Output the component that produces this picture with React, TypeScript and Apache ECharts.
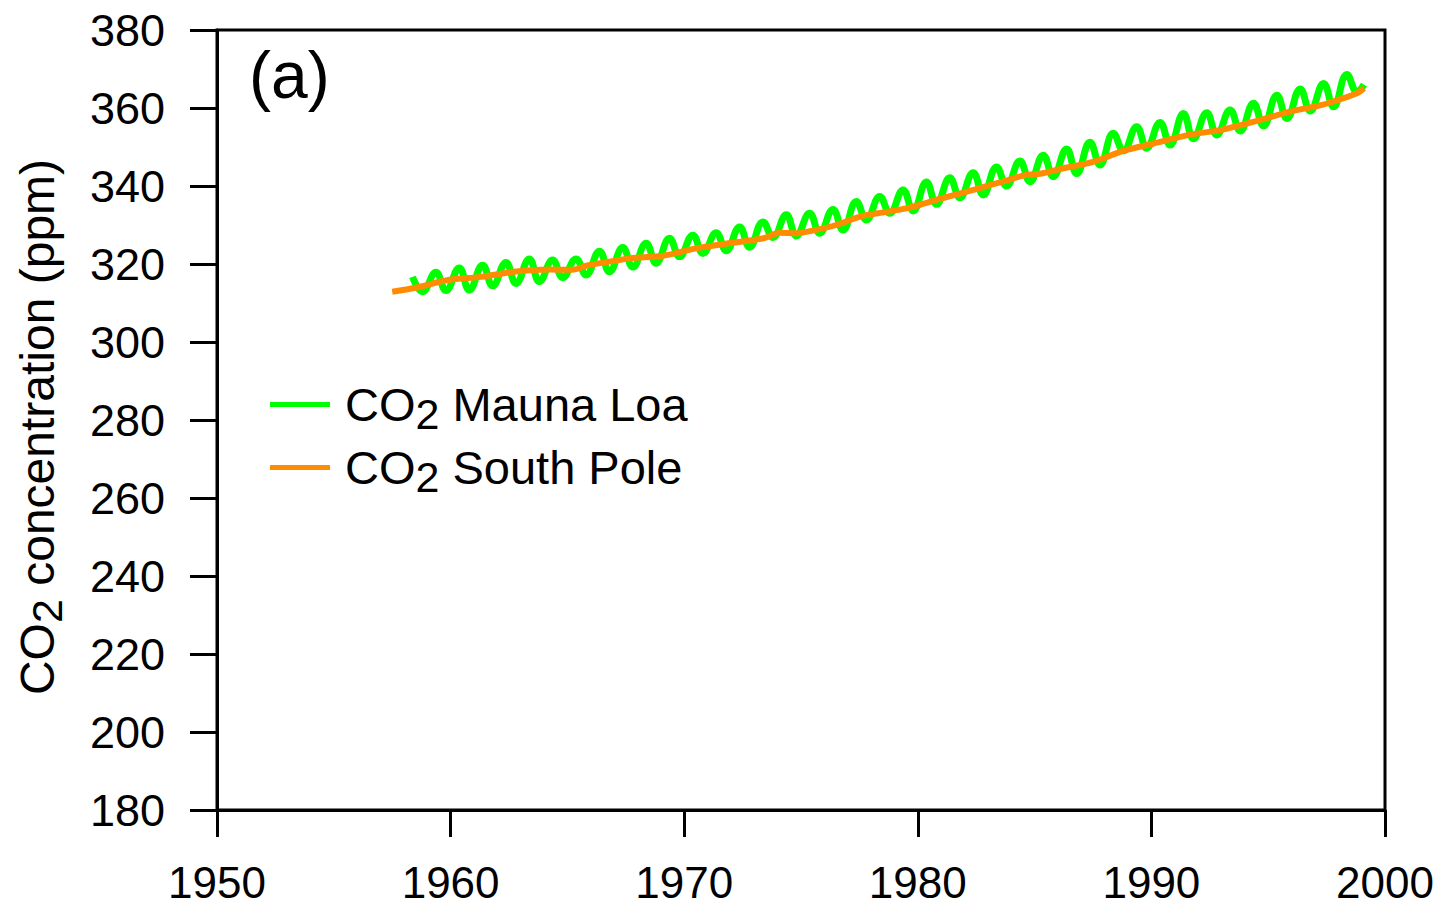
import React, { useEffect, useRef } from "react";
import * as echarts from "echarts";

// Mauna Loa: annual seasonal maximum (≈May) and minimum (≈Oct)
const mlYears = [
  1958, 1959, 1960, 1961, 1962, 1963, 1964, 1965, 1966, 1967,
  1968, 1969, 1970, 1971, 1972, 1973, 1974, 1975, 1976, 1977,
  1978, 1979, 1980, 1981, 1982, 1983, 1984, 1985, 1986, 1987,
  1988, 1989, 1990, 1991, 1992, 1993, 1994, 1995, 1996, 1997, 1998,
];
const mlPeaks = [
  316.7, 317.9, 319.0, 319.7, 320.4, 321.3, 321.0, 321.3, 323.3, 324.2,
  325.3, 326.6, 327.4, 328.0, 329.5, 330.8, 332.6, 333.0, 334.0, 336.0,
  337.3, 339.0, 341.0, 342.1, 343.4, 344.9, 346.4, 347.9, 349.5, 351.2,
  353.5, 355.2, 356.3, 358.6, 358.8, 359.5, 361.2, 363.3, 364.9, 366.3, 368.6,
];
const mlTroughs = [
  312.9, 313.2, 313.3, 314.4, 315.0, 315.5, 316.5, 317.2, 318.0, 319.2,
  320.2, 321.9, 322.7, 323.4, 324.3, 326.8, 327.2, 327.9, 328.7, 331.3,
  333.0, 333.6, 335.3, 337.0, 337.7, 340.0, 341.1, 342.4, 343.2, 345.4,
  349.0, 349.7, 350.5, 352.1, 353.1, 354.1, 355.4, 357.3, 359.2, 360.3, 364.2,
];
const mlLast = [1999.1, 366.0];

// South Pole
const spYears = [
  1957.5, 1958.5, 1959.9, 1961.3, 1962.7, 1964.2, 1965.2, 1965.9, 1967.0, 1967.7,
  1969.1, 1970.5, 1971.9, 1973.4, 1974.1, 1974.8, 1975.6, 1976.5, 1977.6, 1978.3,
  1979.6, 1981.0, 1982.5, 1983.9, 1984.6, 1985.3, 1986.2, 1987.5, 1988.8, 1990.1,
  1991.6, 1993.0, 1994.4, 1995.9, 1997.3, 1998.0, 1998.8, 1999.1,
];
const spValues = [
  312.9, 313.9, 315.9, 316.7, 318.0, 318.6, 318.5, 319.7, 320.8, 321.5,
  322.1, 324.0, 325.3, 326.6, 328.0, 327.9, 328.7, 330.0, 332.3, 333.0,
  334.4, 336.8, 339.2, 341.6, 342.8, 343.2, 344.5, 346.2, 349.0, 350.9,
  353.1, 354.4, 356.5, 359.0, 360.8, 362.1, 363.8, 365.1,
];

const seriesNames = ["CO₂ Mauna Loa", "CO₂ South Pole"];
const yTitle = "CO₂ concentration (ppm)";
const panelLabel = "(a)";

const PEAK_PHASE = 0.37;
const TROUGH_PHASE = 0.8;

const FONT = "'Liberation Sans', Arial, Helvetica, sans-serif";

function toRich(s: string) {
  return s.replace("₂", "{sub|2}");
}

export default function App() {
  const ref = useRef<HTMLDivElement>(null);

  useEffect(() => {
    if (!ref.current) return;
    const chart = echarts.init(ref.current, undefined, { renderer: "svg" });

    const mlData: number[][] = [];
    mlYears.forEach((y, i) => {
      mlData.push([y + PEAK_PHASE, mlPeaks[i]]);
      mlData.push([y + TROUGH_PHASE, mlTroughs[i]]);
    });
    mlData.push(mlLast);
    const spData = spYears.map((y, i) => [y, spValues[i]]);

    chart.setOption({
      animation: false,
      backgroundColor: "#fff",
      grid: {
        left: 217,
        right: 52,
        top: 30,
        bottom: 96,
        show: true,
        borderColor: "#000",
        borderWidth: 3,
        containLabel: false,
      },
      legend: {
        orient: "vertical",
        left: 270,
        top: 381,
        padding: 0,
        itemGap: 9,
        itemWidth: 60,
        itemHeight: 5,
        selectedMode: false,
        formatter: (name: string) => toRich(name),
        textStyle: {
          fontSize: 47,
          fontFamily: FONT,
          color: "#000",
          padding: [0, 0, 0, 10],
          rich: {
            sub: { fontSize: 43, fontFamily: FONT, color: "#000", padding: [18, 0, 0, 0] },
          },
        },
        data: seriesNames.map((n) => ({ name: n, icon: "rect" })),
      },
      xAxis: {
        type: "value",
        min: 1950,
        max: 2000,
        interval: 10,
        splitLine: { show: false },
        axisLine: { show: true, lineStyle: { color: "#000", width: 3 } },
        axisTick: { show: true, length: 27, lineStyle: { color: "#000", width: 3 } },
        axisLabel: {
          fontSize: 44,
          lineHeight: 34,
          fontFamily: FONT,
          color: "#000",
          margin: 55,
          formatter: (v: number) => String(v),
        },
      },
      yAxis: {
        type: "value",
        min: 180,
        max: 380,
        interval: 20,
        splitLine: { show: false },
        axisLine: { show: true, lineStyle: { color: "#000", width: 3 } },
        axisTick: { show: true, length: 27, lineStyle: { color: "#000", width: 3 } },
        axisLabel: {
          fontSize: 45,
          fontFamily: FONT,
          color: "#000",
          margin: 52,
        },
        name: toRich(yTitle),
        nameLocation: "middle",
        nameRotate: 90,
        nameGap: 149,
        nameTextStyle: {
          fontSize: 48,
          fontFamily: FONT,
          color: "#000",
          padding: [0, 14, 0, 0],
          rich: { sub: { fontSize: 43, fontFamily: FONT, color: "#000", padding: [18, 0, 0, 0] } },
        },
      },
      graphic: [
        {
          type: "text",
          left: 249,
          top: 42,
          style: {
            text: panelLabel,
            fontSize: 66,
            fontFamily: FONT,
            fill: "#000",
          },
        },
      ],
      series: [
        {
          name: seriesNames[0],
          type: "line",
          data: mlData,
          smooth: 0.45,
          symbol: "none",
          color: "#00ff00",
          lineStyle: { color: "#00ff00", width: 7 },
          itemStyle: { color: "#00ff00" },
          z: 2,
        },
        {
          name: seriesNames[1],
          type: "line",
          data: spData,
          smooth: 0.3,
          symbol: "none",
          color: "#ff8c00",
          lineStyle: { color: "#ff8c00", width: 6 },
          itemStyle: { color: "#ff8c00" },
          z: 3,
        },
      ],
    });

    return () => chart.dispose();
  }, []);

  return (
    <div
      ref={ref}
      style={{ position: "absolute", left: 0, top: 0, width: 1437, height: 906 }}
    />
  );
}
